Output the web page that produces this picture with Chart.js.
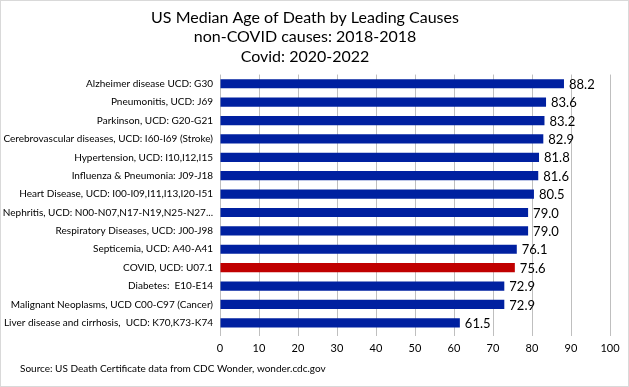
<!DOCTYPE html>
<html>
<head>
<meta charset="utf-8">
<script src="https://cdn.jsdelivr.net/npm/chart.js@4"></script>
<style>
  html, body { margin: 0; padding: 0; background: #fff; }
  #wrap { width: 629px; height: 387px; }
</style>
</head>
<body>
<div id="wrap"><canvas id="ageChart" width="629" height="387"></canvas></div>
<script>
// Median age of death, by cause
const causes = [
    'Alzheimer disease UCD: G30',
    'Pneumonitis, UCD: J69',
    'Parkinson, UCD: G20-G21',
    'Cerebrovascular diseases, UCD: I60-I69 (Stroke)',
    'Hypertension, UCD: I10,I12,I15',
    'Influenza & Pneumonia: J09-J18',
    'Heart Disease, UCD: I00-I09,I11,I13,I20-I51',
    'Nephritis, UCD: N00-N07,N17-N19,N25-N27...',
    'Respiratory Diseases, UCD: J00-J98',
    'Septicemia, UCD: A40-A41',
    'COVID, UCD: U07.1',
    'Diabetes:  E10-E14',
    'Malignant Neoplasms, UCD C00-C97 (Cancer)',
    'Liver disease and cirrhosis,  UCD: K70,K73-K74'
];
const medianAge = [88.2, 83.6, 83.2, 82.9, 81.8, 81.6, 80.5, 79.0, 79.0, 76.1, 75.6, 72.9, 72.9, 61.5];
const xTicks = [0, 10, 20, 30, 40, 50, 60, 70, 80, 90, 100];

const FONT = 'Lato, "Liberation Sans", sans-serif';
const barColors = causes.map(c => c.startsWith('COVID') ? '#c00000' : '#0020a0');

// value labels at the end of each bar, footer note and outer frame
const extras = {
    id: 'extras',
    afterDatasetsDraw(chart) {
        const ctx = chart.ctx;
        const meta = chart.getDatasetMeta(0);
        ctx.save();
        ctx.fillStyle = '#000';
        ctx.font = '13px ' + FONT;
        ctx.textBaseline = 'middle';
        ctx.textAlign = 'left';
        meta.data.forEach((bar, i) => {
            ctx.fillText(medianAge[i].toFixed(1), bar.x + 5, bar.y + 1);
        });
        ctx.font = '10px ' + FONT;
        ctx.fillText('Source: US Death Certificate data from CDC Wonder, wonder.cdc.gov', 20, 369);
        ctx.strokeStyle = '#d9d9d9';
        ctx.lineWidth = 1;
        ctx.strokeRect(0.5, 0.5, chart.width - 1, chart.height - 1);
        ctx.restore();
    }
};

const ctx = document.getElementById('ageChart').getContext('2d');
const ageChart = new Chart(ctx, {
    type: 'bar',
    data: {
        labels: causes,
        datasets: [{
            data: medianAge,
            backgroundColor: barColors,
            borderWidth: 0,
            categoryPercentage: 1.0,
            barPercentage: 0.5
        }]
    },
    options: {
        indexAxis: 'y',
        responsive: false,
        animation: false,
        layout: { padding: { left: 0, right: 19, top: 0, bottom: 0 } },
        plugins: {
            legend: { display: false },
            tooltip: { enabled: false },
            title: {
                display: true,
                text: ['US Median Age of Death by Leading Causes', 'non-COVID causes: 2018-2018', 'Covid: 2020-2022'],
                color: '#000',
                font: { family: FONT, size: 16, weight: 'normal', lineHeight: 1.22 },
                padding: { top: 8, bottom: 8 }
            }
        },
        scales: {
            x: {
                min: 0,
                max: 100,
                afterBuildTicks: axis => { axis.ticks = xTicks.map(v => ({ value: v })); },
                afterFit: axis => { axis.height = 55; },
                border: { display: false },
                grid: { color: '#bfbfbf', tickLength: 4, drawTicks: true },
                ticks: { color: '#000', font: { family: FONT, size: 11 }, padding: 6 }
            },
            y: {
                afterFit: axis => { axis.width = 220; },
                border: { display: false },
                grid: { display: false, drawTicks: false },
                ticks: { color: '#000', font: { family: FONT, size: 10 }, padding: 7, autoSkip: false }
            }
        }
    },
    plugins: [extras]
});
</script>
</body>
</html>
